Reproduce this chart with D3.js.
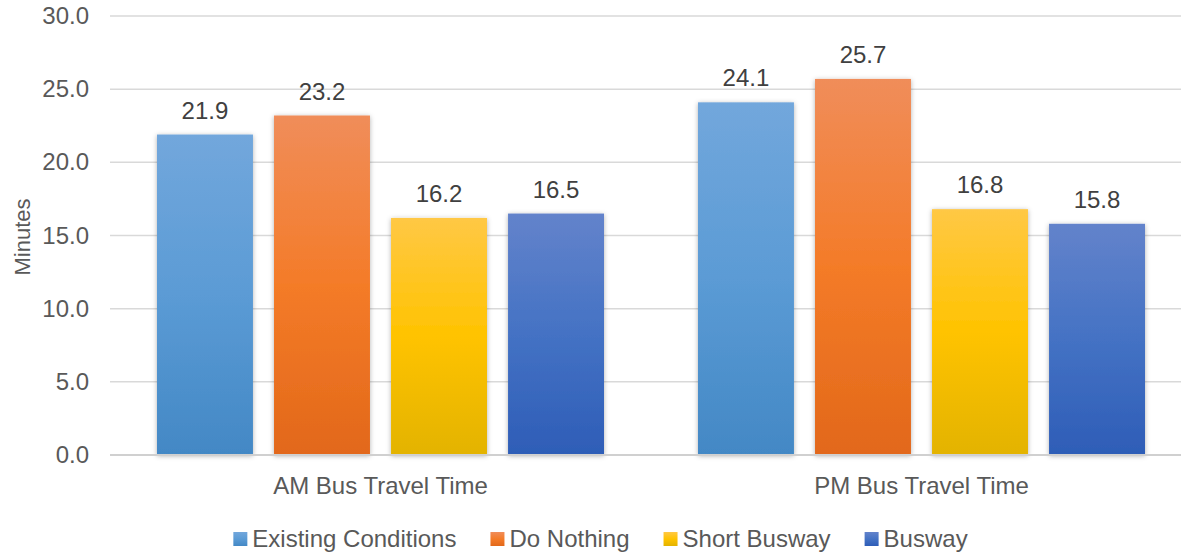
<!DOCTYPE html>
<html lang="en">
<head>
<meta charset="UTF-8">
<title>Bus Travel Time</title>
<script src="https://d3js.org/d3.v7.min.js"></script>
<style>
  body { margin: 0; background: #fff; }
  text { font-family: "Liberation Sans", Arial, sans-serif; }
</style>
</head>
<body>
<script>
var w = 1181, h = 552;

var categories = ['AM Bus Travel Time', 'PM Bus Travel Time'];
var seriesNames = ['Existing Conditions', 'Do Nothing', 'Short Busway', 'Busway'];
var existing = [21.9, 24.1];
var doNothing = [23.2, 25.7];
var shortBusway = [16.2, 16.8];
var busway = [16.5, 15.8];
var yTicks = [0, 5, 10, 15, 20, 25, 30];

// colours: top / middle / bottom of each gradient
var colours = [
  ['#72a7dc', '#5b9bd5', '#4388c5'],
  ['#f08d5a', '#f47b28', '#e2681a'],
  ['#ffc845', '#ffc300', '#e3b300'],
  ['#6383cb', '#4472c4', '#2e5db7']
];

var values = [existing, doNothing, shortBusway, busway];

var svg = d3.select('body').append('svg')
  .attr('width', w).attr('height', h);

var defs = svg.append('defs');
colours.forEach(function (c, i) {
  var g = defs.append('linearGradient').attr('id', 'grad' + i)
    .attr('x1', 0).attr('y1', 0).attr('x2', 0).attr('y2', 1);
  g.append('stop').attr('offset', '0%').attr('stop-color', c[0]);
  g.append('stop').attr('offset', '50%').attr('stop-color', c[1]);
  g.append('stop').attr('offset', '100%').attr('stop-color', c[2]);
});
var f = defs.append('filter').attr('id', 'shadow')
  .attr('x', '-20%').attr('y', '-20%').attr('width', '140%').attr('height', '140%');
f.append('feDropShadow').attr('dx', 0).attr('dy', 1).attr('stdDeviation', 2.5)
  .attr('flood-color', '#000').attr('flood-opacity', 0.3);

var y = d3.scaleLinear().domain([0, 30]).range([455, 16]);
var x0 = d3.scaleBand().domain(categories).range([110, 1192]).padding(0);
var x1 = d3.scaleBand().domain(seriesNames).range([47, x0.bandwidth() - 47])
  .paddingInner(0.18).paddingOuter(0);

// grid
svg.append('g').selectAll('line').data(yTicks).enter().append('line')
  .attr('x1', 110).attr('x2', w)
  .attr('y1', function (d) { return y(d); })
  .attr('y2', function (d) { return y(d); })
  .attr('stroke', '#d9d9d9').attr('stroke-width', 1.5);

svg.append('g').selectAll('text').data(yTicks).enter().append('text')
  .attr('x', 89).attr('y', function (d) { return y(d) + 8; })
  .attr('text-anchor', 'end').attr('font-size', 24).attr('fill', '#595959')
  .text(d3.format('.1f'));

svg.append('text')
  .attr('transform', 'translate(30,237) rotate(-90)')
  .attr('text-anchor', 'middle').attr('font-size', 22).attr('fill', '#595959')
  .text('Minutes');

// bars
var groups = svg.selectAll('g.grp').data(categories).enter().append('g')
  .attr('class', 'grp')
  .attr('transform', function (d) { return 'translate(' + x0(d) + ',0)'; });

groups.each(function (cat, ci) {
  var g = d3.select(this);
  var rows = seriesNames.map(function (s, si) { return { s: s, i: si, v: values[si][ci] }; });
  g.selectAll('rect').data(rows).enter().append('rect')
    .attr('x', function (d) { return x1(d.s); })
    .attr('y', function (d) { return y(d.v); })
    .attr('width', x1.bandwidth())
    .attr('height', function (d) { return y(0) - y(d.v); })
    .attr('fill', function (d) { return 'url(#grad' + d.i + ')'; })
    .attr('filter', 'url(#shadow)');
  g.selectAll('text.val').data(rows).enter().append('text')
    .attr('class', 'val')
    .attr('x', function (d) { return x1(d.s) + x1.bandwidth() / 2; })
    .attr('y', function (d) { return y(d.v) - 16; })
    .attr('text-anchor', 'middle').attr('font-size', 24).attr('fill', '#404040')
    .text(function (d) { return d3.format('.1f')(d.v); });
});

// axis line
svg.append('line').attr('x1', 110).attr('x2', w)
  .attr('y1', y(0)).attr('y2', y(0))
  .attr('stroke', '#d0d0d0').attr('stroke-width', 2);

svg.append('g').selectAll('text').data(categories).enter().append('text')
  .attr('x', function (d) { return x0(d) + x0.bandwidth() / 2; })
  .attr('y', 494)
  .attr('text-anchor', 'middle').attr('font-size', 24).attr('fill', '#595959')
  .text(function (d) { return d; });

// legend
var legend = svg.append('g');
var items = legend.selectAll('g').data(seriesNames).enter().append('g');
items.append('rect').attr('width', 14).attr('height', 14).attr('y', 532)
  .attr('fill', function (d, i) { return 'url(#grad' + i + ')'; });
items.append('text').attr('x', 19).attr('y', 547)
  .attr('font-size', 24).attr('fill', '#595959')
  .text(function (d) { return d; });
var pos = 0, offsets = [];
items.each(function () {
  offsets.push(pos);
  pos += 19 + d3.select(this).select('text').node().getComputedTextLength() + 34;
});
var total = pos - 34;
var start = 600.5 - total / 2;
items.attr('transform', function (d, i) { return 'translate(' + (start + offsets[i]) + ',0)'; });
</script>
</body>
</html>
